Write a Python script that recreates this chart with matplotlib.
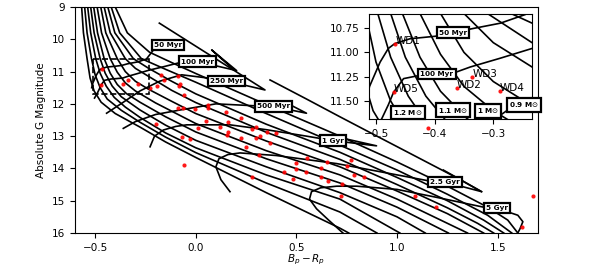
import matplotlib
matplotlib.use("Agg")
import matplotlib.pyplot as plt
import matplotlib.patches as patches

# cooling tracks (least massive first)
track_x = [
    [-0.40, -0.34, -0.23, -0.12, 0.0, 0.35, 0.716, 1.0, 1.25, 1.45, 1.55, 1.6],
    [-0.42, -0.378, -0.27, -0.15, 0.0, 0.35, 0.716, 1.0, 1.25, 1.45, 1.57],
    [-0.437, -0.402, -0.31, -0.234, -0.12, 0.0, 0.35, 0.716, 1.0, 1.25, 1.43, 1.53],
    [-0.455, -0.425, -0.35, -0.3, -0.234, -0.12, 0.0, 0.35, 0.716, 1.0, 1.25, 1.4, 1.48],
    [-0.472, -0.447, -0.39, -0.35, -0.3, -0.234, -0.12, 0.0, 0.35, 0.716, 1.0, 1.25, 1.43],
    [-0.49, -0.468, -0.425, -0.39, -0.35, -0.3, -0.2, 0.0, 0.35, 0.716, 1.0, 1.35],
    [-0.507, -0.488, -0.455, -0.425, -0.39, -0.345, -0.277, -0.15, 0.0, 0.35, 0.716, 1.0, 1.255],
    [-0.522, -0.505, -0.475, -0.45, -0.415, -0.37, -0.277, -0.15, 0.0, 0.35, 0.716, 1.0, 1.14],
    [-0.537, -0.522, -0.497, -0.475, -0.445, -0.405, -0.35, -0.277, -0.15, 0.0, 0.35, 0.716, 1.014],
    [-0.552, -0.54, -0.518, -0.5, -0.475, -0.44, -0.37, -0.277, -0.15, 0.0, 0.35, 0.716, 0.9],
    [-0.567, -0.558, -0.54, -0.525, -0.505, -0.47, -0.4, -0.277, -0.15, 0.0, 0.35, 0.716, 0.76],
]
track_y = [
    [9.0, 9.8, 10.4, 10.72, 11.06, 12.02, 13.0, 13.8, 14.55, 15.2, 15.6, 16.0],
    [9.0, 9.8, 10.6, 10.93, 11.33, 12.3, 13.28, 14.05, 14.8, 15.45, 16.0],
    [9.0, 9.8, 10.6, 10.9, 11.3, 11.69, 12.63, 13.5, 14.28, 15.0, 15.6, 16.0],
    [9.0, 9.8, 10.6, 10.9, 11.15, 11.58, 11.96, 12.88, 13.72, 14.5, 15.22, 15.7, 16.0],
    [9.0, 9.8, 10.6, 11.0, 11.3, 11.55, 11.92, 12.3, 13.15, 13.95, 14.7, 15.4, 16.0],
    [9.0, 9.8, 10.6, 11.02, 11.35, 11.6, 11.97, 12.61, 13.45, 14.2, 14.95, 16.0],
    [9.0, 9.8, 10.6, 11.05, 11.4, 11.68, 11.95, 12.4, 12.87, 13.7, 14.45, 15.2, 16.0],
    [9.0, 9.8, 10.6, 11.05, 11.45, 11.78, 12.19, 12.66, 13.13, 13.95, 14.75, 15.5, 16.0],
    [9.0, 9.8, 10.6, 11.05, 11.45, 11.8, 12.1, 12.42, 12.9, 13.36, 14.2, 14.95, 16.0],
    [9.0, 9.8, 10.6, 11.1, 11.5, 11.85, 12.2, 12.57, 13.03, 13.51, 14.45, 15.35, 16.0],
    [9.0, 9.8, 10.6, 11.2, 11.6, 11.95, 12.3, 12.72, 13.18, 13.66, 14.75, 15.85, 16.0],
]

# short low-mass track at the upper right
short_x = [0.369, 0.55, 0.716, 0.9, 1.1, 1.3, 1.42]
short_y = [11.26, 11.85, 12.4, 13.0, 13.65, 14.3, 14.72]

# isochrones
iso_names = ["50 Myr", "100 Myr", "250 Myr", "500 Myr", "1 Gyr", "2.5 Gyr", "5 Gyr"]
iso_x = [
    [-0.517, -0.511, -0.493, -0.479, -0.468, -0.442, -0.40, -0.368, -0.339, -0.288,
     -0.245, -0.225, -0.2, -0.138],
    [-0.503, -0.49, -0.479, -0.47, -0.453, -0.42, -0.397, -0.362, -0.339, -0.288,
     -0.234, -0.16, -0.078, 0.009, 0.203, 0.079, 0.19],
    [-0.443, -0.36, -0.277, -0.18, -0.07, 0.06, 0.153, 0.344, -0.181],
    [-0.36, -0.3, -0.2, -0.078, 0.1, 0.294, 0.385, 0.55, 0.46],
    [-0.227, -0.205, -0.161, -0.1, -0.045, 0.17, 0.35, 0.55, 0.683, 0.898, 0.72],
    [0.17, 0.125, 0.1, 0.115, 0.16, 0.22, 0.4, 0.7, 1.0, 1.153, 1.238, 1.42, 1.23],
    [0.74, 0.66, 0.6, 0.565, 0.575, 0.62, 0.7, 0.8, 1.0, 1.2, 1.43, 1.495, 1.6,
     1.625, 1.61, 1.595],
]
iso_y = [
    [11.5, 11.35, 11.10, 10.96, 10.91, 10.86, 10.835, 10.81, 10.76, 10.70,
     10.61, 10.45, 10.25, 10.18],
    [11.82, 11.68, 11.54, 11.41, 11.27, 11.23, 11.22, 11.2, 11.15, 11.06,
     10.96, 10.85, 10.72, 10.69, 10.97, 10.33, 10.95],
    [12.29, 11.95, 11.6, 11.3, 11.1, 11.2, 11.29, 11.57, 9.5],
    [12.76, 12.55, 12.33, 12.19, 12.0, 12.06, 12.08, 12.29, 12.0],
    [13.33, 13.0, 12.81, 12.7, 12.65, 12.65, 12.8, 13.0, 13.14, 13.30, 13.05],
    [14.72, 14.35, 13.95, 13.7, 13.57, 13.52, 13.6, 13.85, 14.2, 14.38, 14.42, 14.72, 14.05],
    [16.05, 15.6, 15.25, 14.95, 14.72, 14.6, 14.55, 14.55, 14.65, 14.9, 15.2, 15.23, 15.45,
     15.65, 15.88, 16.05],
]
iso_label_x = [-0.138, 0.009, 0.153, 0.385, 0.683, 1.238, 1.495]
iso_label_y = [10.18, 10.69, 11.29, 12.08, 13.14, 14.42, 15.23]

# observed white dwarfs
obs_x = [-0.227, -0.191, -0.173, -0.156, -0.087, -0.082, -0.078, -0.057, -0.090, -0.062,
         -0.002, 0.059, 0.062, 0.149, -0.198, -0.067, -0.027, -0.058, 0.011, 0.052,
         0.12, 0.153, 0.159, 0.162, 0.225, 0.225, 0.249, 0.281, 0.299, 0.299,
         0.319, 0.316, 0.356, 0.369, 0.397, 0.278, 0.438, 0.481, 0.498, 0.498,
         0.551, 0.548, 0.620, 0.622, 0.650, 0.658, 0.728, 0.750, 0.771, 0.788,
         0.836, 0.721, 1.152, 1.089, 1.193, 1.674, 1.619]
obs_y = [11.50, 11.44, 11.12, 11.26, 11.14, 11.45, 11.39, 11.73, 12.14, 12.14,
         12.17, 12.03, 12.12, 12.24, 12.62, 13.02, 13.08, 13.89, 12.76, 12.52,
         12.71, 12.96, 12.86, 12.55, 12.45, 13.05, 13.35, 12.79, 12.71, 13.05,
         13.00, 13.58, 12.86, 13.22, 12.91, 14.27, 14.12, 14.34, 14.03, 13.82,
         13.69, 14.10, 14.25, 13.98, 13.79, 14.38, 14.48, 13.92, 13.74, 14.20,
         14.25, 14.85, 12.74, 14.85, 15.19, 14.85, 15.81]

wd_names = ["WD1", "WD2", "WD3", "WD4", "WD5"]
wd_x = [-0.467, -0.362, -0.336, -0.289, -0.470]
wd_y = [10.909, 11.37, 11.25, 11.40, 11.41]

# zoom window
zoom_x = (-0.512, -0.234)
zoom_y = (10.605, 11.685)

mass_names = [r"1.2 M$\odot$", r"1.1 M$\odot$", r"1 M$\odot$", r"0.9 M$\odot$"]
mass_x = [-0.4453, -0.3684, -0.3094, -0.2479]
mass_y = [11.619, 11.593, 11.603, 11.541]

inset_iso_x = [-0.369, -0.396]
inset_iso_y = [10.796, 11.225]

box = dict(boxstyle="square,pad=0.3", fc="white", ec="black", lw=1.6)


def draw_lines(a):
    for xs, ys in zip(track_x, track_y):
        a.plot(xs, ys, color="black", lw=1.2, zorder=2)
    a.plot(short_x, short_y, color="black", lw=1.2, zorder=2)
    for xs, ys in zip(iso_x, iso_y):
        a.plot(xs, ys, color="black", lw=1.2, zorder=2)


fig = plt.figure(figsize=(5.98, 2.71), dpi=100)
ax = fig.add_axes([0.1254, 0.1402, 0.7742, 0.834])

draw_lines(ax)
ax.scatter(obs_x, obs_y, s=9, color="red", alpha=0.9, linewidths=0, zorder=3)
ax.scatter(wd_x, wd_y, s=9, color="red", alpha=0.9, linewidths=0, zorder=3)

for name, lx, ly in zip(iso_names, iso_label_x, iso_label_y):
    ax.text(lx, ly, name, fontsize=5.2, fontweight="bold", ha="center", va="center",
            bbox=box, zorder=5)

ax.add_patch(patches.Rectangle((zoom_x[0], zoom_y[0]), zoom_x[1] - zoom_x[0],
                               zoom_y[1] - zoom_y[0], fill=False, ls="--", lw=1.2,
                               ec="black", zorder=4))

ax.set_xlim(-0.6, 1.7)
ax.set_ylim(16, 9)
ax.set_xticks([-0.5, 0.0, 0.5, 1.0, 1.5])
ax.set_yticks([9, 10, 11, 12, 13, 14, 15, 16])
ax.tick_params(labelsize=7.5)
ax.set_xlabel("$B_p - R_p$", fontsize=7.5, labelpad=0)
ax.set_ylabel("Absolute G Magnitude", fontsize=7.5)

# inset
axins = fig.add_axes([0.617, 0.561, 0.2726, 0.3875])
draw_lines(axins)
axins.scatter(wd_x, wd_y, s=9, color="red", alpha=0.9, linewidths=0, zorder=3)
for name, wx, wy in zip(wd_names, wd_x, wd_y):
    axins.text(wx, wy, name, fontsize=7.5, zorder=4)
for name, lx, ly in zip(iso_names[:2], inset_iso_x, inset_iso_y):
    axins.text(lx, ly, name, fontsize=5.2, fontweight="bold", ha="center", va="center",
               bbox=box, zorder=5)
for name, lx, ly in zip(mass_names, mass_x, mass_y):
    axins.text(lx, ly, name, fontsize=5.2, fontweight="bold", ha="center", va="center",
               bbox=box, zorder=5, clip_on=False)
axins.set_xlim(*zoom_x)
axins.set_ylim(zoom_y[1], zoom_y[0])
axins.set_xticks([-0.5, -0.4, -0.3])
axins.set_yticks([10.75, 11.0, 11.25, 11.5])
axins.set_yticklabels(["10.75", "11.00", "11.25", "11.50"])
axins.tick_params(labelsize=7.5)

fig.savefig("out.png", dpi=100)
